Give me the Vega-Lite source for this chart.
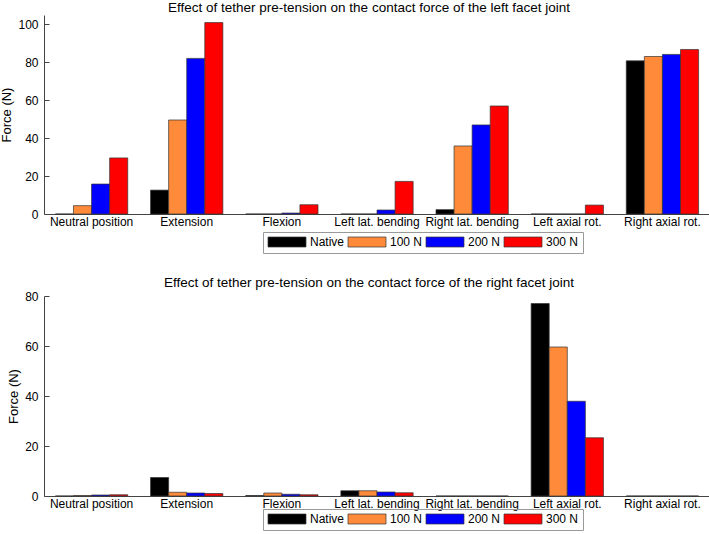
{
  "$schema": "https://vega.github.io/schema/vega-lite/v6.json",
  "padding": {"left": 0, "top": 0, "right": 0, "bottom": 0},
  "config": {
    "font": "Liberation Sans",
    "view": {"stroke": null},
    "title": {"fontSize": 13.5, "fontWeight": "normal", "color": "#000", "offset": 1, "anchor": "middle", "dx": -8},
    "axis": {"labelFontSize": 12, "labelColor": "#000", "titleFontSize": 13, "titleFontWeight": "normal", "titleColor": "#000", "domainColor": "#444", "tickColor": "#444", "grid": false},
    "legend": {"labelFontSize": 12, "labelColor": "#000"}
  },
  "datasets": {
    "left": [
      {"movement": "Neutral position", "tension": "Native", "force": 0},
      {"movement": "Neutral position", "tension": "100 N", "force": 4.4},
      {"movement": "Neutral position", "tension": "200 N", "force": 15.8},
      {"movement": "Neutral position", "tension": "300 N", "force": 29.6},
      {"movement": "Extension", "tension": "Native", "force": 12.6},
      {"movement": "Extension", "tension": "100 N", "force": 49.6},
      {"movement": "Extension", "tension": "200 N", "force": 82.1},
      {"movement": "Extension", "tension": "300 N", "force": 101},
      {"movement": "Flexion", "tension": "Native", "force": 0},
      {"movement": "Flexion", "tension": "100 N", "force": 0},
      {"movement": "Flexion", "tension": "200 N", "force": 0.5},
      {"movement": "Flexion", "tension": "300 N", "force": 4.9},
      {"movement": "Left lat. bending", "tension": "Native", "force": 0},
      {"movement": "Left lat. bending", "tension": "100 N", "force": 0},
      {"movement": "Left lat. bending", "tension": "200 N", "force": 2.1},
      {"movement": "Left lat. bending", "tension": "300 N", "force": 17.2},
      {"movement": "Right lat. bending", "tension": "Native", "force": 2.3},
      {"movement": "Right lat. bending", "tension": "100 N", "force": 35.9},
      {"movement": "Right lat. bending", "tension": "200 N", "force": 47},
      {"movement": "Right lat. bending", "tension": "300 N", "force": 57},
      {"movement": "Left axial rot.", "tension": "Native", "force": 0},
      {"movement": "Left axial rot.", "tension": "100 N", "force": 0},
      {"movement": "Left axial rot.", "tension": "200 N", "force": 0},
      {"movement": "Left axial rot.", "tension": "300 N", "force": 4.7},
      {"movement": "Right axial rot.", "tension": "Native", "force": 80.8},
      {"movement": "Right axial rot.", "tension": "100 N", "force": 83.1},
      {"movement": "Right axial rot.", "tension": "200 N", "force": 84.2},
      {"movement": "Right axial rot.", "tension": "300 N", "force": 86.8}
    ],
    "right": [
      {"movement": "Neutral position", "tension": "Native", "force": 0},
      {"movement": "Neutral position", "tension": "100 N", "force": 0.2},
      {"movement": "Neutral position", "tension": "200 N", "force": 0.4},
      {"movement": "Neutral position", "tension": "300 N", "force": 0.5},
      {"movement": "Extension", "tension": "Native", "force": 7.4},
      {"movement": "Extension", "tension": "100 N", "force": 1.5},
      {"movement": "Extension", "tension": "200 N", "force": 1.2},
      {"movement": "Extension", "tension": "300 N", "force": 1.0},
      {"movement": "Flexion", "tension": "Native", "force": 0.2},
      {"movement": "Flexion", "tension": "100 N", "force": 1.2},
      {"movement": "Flexion", "tension": "200 N", "force": 0.7},
      {"movement": "Flexion", "tension": "300 N", "force": 0.5},
      {"movement": "Left lat. bending", "tension": "Native", "force": 2.1},
      {"movement": "Left lat. bending", "tension": "100 N", "force": 2.1},
      {"movement": "Left lat. bending", "tension": "200 N", "force": 1.6},
      {"movement": "Left lat. bending", "tension": "300 N", "force": 1.3},
      {"movement": "Right lat. bending", "tension": "Native", "force": 0},
      {"movement": "Right lat. bending", "tension": "100 N", "force": 0},
      {"movement": "Right lat. bending", "tension": "200 N", "force": 0},
      {"movement": "Right lat. bending", "tension": "300 N", "force": 0},
      {"movement": "Left axial rot.", "tension": "Native", "force": 77},
      {"movement": "Left axial rot.", "tension": "100 N", "force": 59.6},
      {"movement": "Left axial rot.", "tension": "200 N", "force": 37.9},
      {"movement": "Left axial rot.", "tension": "300 N", "force": 23.3},
      {"movement": "Right axial rot.", "tension": "Native", "force": 0},
      {"movement": "Right axial rot.", "tension": "100 N", "force": 0},
      {"movement": "Right axial rot.", "tension": "200 N", "force": 0},
      {"movement": "Right axial rot.", "tension": "300 N", "force": 0}
    ]
  },
  "spacing": 21,
  "resolve": {"scale": {"color": "independent"}, "legend": {"color": "independent"}},
  "vconcat": [
    {
      "title": "Effect of tether pre-tension on the contact force of the left facet joint",
      "width": 666,
      "height": 199,
      "data": {"name": "left"},
      "mark": {"type": "bar", "stroke": "#333", "strokeWidth": 0.7},
      "encoding": {
        "x": {"field": "movement", "type": "nominal", "sort": ["Neutral position", "Extension", "Flexion", "Left lat. bending", "Right lat. bending", "Left axial rot.", "Right axial rot."],
              "scale": {"paddingInner": 0.24, "paddingOuter": 0.12},
              "axis": {"title": null, "labelAngle": 0, "ticks": false, "labelPadding": 2}},
        "xOffset": {"field": "tension", "type": "nominal", "sort": ["Native", "100 N", "200 N", "300 N"], "scale": {"paddingInner": 0, "paddingOuter": 0}},
        "y": {"field": "force", "type": "quantitative", "scale": {"domain": [0, 105], "nice": false},
              "axis": {"title": "Force (N)", "values": [0, 20, 40, 60, 80, 100], "tickSize": -5, "labelPadding": 11, "titlePadding": 4}},
        "color": {"field": "tension", "type": "nominal", "sort": ["Native", "100 N", "200 N", "300 N"],
                  "scale": {"domain": ["Native", "100 N", "200 N", "300 N"], "range": ["#000000", "#ff8a3a", "#0000ff", "#ff0000"]},
                  "legend": {"title": null, "orient": "none", "legendX": 219, "legendY": 217, "direction": "horizontal", "gridAlign": "none",
                             "symbolType": "M-1,-1H6.6V1H-1Z", "symbolSize": 100, "symbolStrokeColor": "#333", "symbolStrokeWidth": 0.7, "symbolOpacity": 1,
                             "labelOffset": 31, "columnPadding": 1, "padding": 4, "strokeColor": "#999"}}
      }
    },
    {
      "title": "Effect of tether pre-tension on the contact force of the right facet joint",
      "width": 666,
      "height": 200,
      "data": {"name": "right"},
      "mark": {"type": "bar", "stroke": "#333", "strokeWidth": 0.7},
      "encoding": {
        "x": {"field": "movement", "type": "nominal", "sort": ["Neutral position", "Extension", "Flexion", "Left lat. bending", "Right lat. bending", "Left axial rot.", "Right axial rot."],
              "scale": {"paddingInner": 0.24, "paddingOuter": 0.12},
              "axis": {"title": null, "labelAngle": 0, "ticks": false, "labelPadding": 2}},
        "xOffset": {"field": "tension", "type": "nominal", "sort": ["Native", "100 N", "200 N", "300 N"], "scale": {"paddingInner": 0, "paddingOuter": 0}},
        "y": {"field": "force", "type": "quantitative", "scale": {"domain": [0, 80], "nice": false},
              "axis": {"title": "Force (N)", "values": [0, 20, 40, 60, 80], "tickSize": -5, "labelPadding": 11, "titlePadding": 4}},
        "color": {"field": "tension", "type": "nominal", "sort": ["Native", "100 N", "200 N", "300 N"],
                  "scale": {"domain": ["Native", "100 N", "200 N", "300 N"], "range": ["#000000", "#ff8a3a", "#0000ff", "#ff0000"]},
                  "legend": {"title": null, "orient": "none", "legendX": 219, "legendY": 213, "direction": "horizontal", "gridAlign": "none",
                             "symbolType": "M-1,-1H6.6V1H-1Z", "symbolSize": 100, "symbolStrokeColor": "#333", "symbolStrokeWidth": 0.7, "symbolOpacity": 1,
                             "labelOffset": 31, "columnPadding": 1, "padding": 4, "strokeColor": "#999"}}
      }
    }
  ]
}
